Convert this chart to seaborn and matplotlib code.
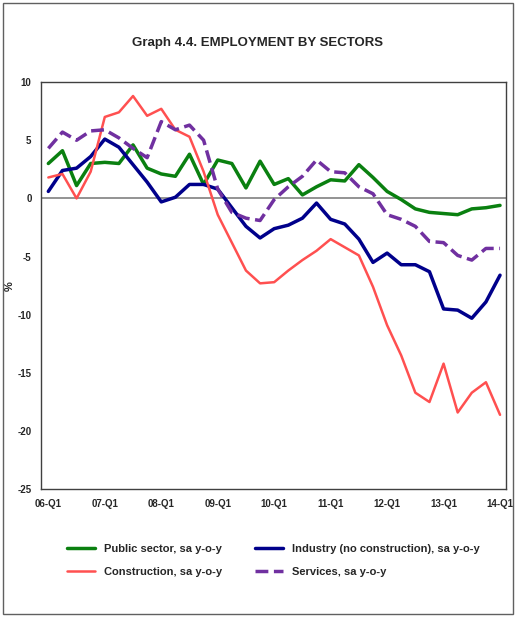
import numpy as np
import pandas as pd
import matplotlib
matplotlib.use("Agg")
import matplotlib.pyplot as plt
import seaborn as sns

quarters = [f"{y:02d}-Q{q}" for y in range(6, 15) for q in range(1, 5)][:33]

public = [3.0, 4.1, 1.1, 3.0, 3.1, 3.0, 4.6, 2.6, 2.1, 1.9, 3.8, 1.2, 3.3, 3.0, 0.9, 3.2, 1.2,
          1.7, 0.3, 1.0, 1.6, 1.5, 2.9, 1.8, 0.6, -0.1, -0.9, -1.2, -1.3, -1.4, -0.9, -0.8, -0.6]
industry = [0.6, 2.4, 2.6, 3.6, 5.1, 4.4, 2.9, 1.4, -0.3, 0.1, 1.2, 1.2, 0.8, -0.8, -2.4, -3.4, -2.6,
            -2.3, -1.7, -0.4, -1.8, -2.2, -3.5, -5.5, -4.7, -5.7, -5.7, -6.3, -9.5, -9.6, -10.3, -8.9, -6.6]
construction = [1.8, 2.1, 0.0, 2.3, 7.0, 7.4, 8.8, 7.1, 7.7, 5.9, 5.3, 2.3, -1.4, -3.8, -6.2, -7.3, -7.2,
                -6.2, -5.3, -4.5, -3.5, -4.2, -4.9, -7.6, -10.9, -13.5, -16.7, -17.5, -14.2, -18.4, -16.7, -15.8, -18.6]
services = [4.3, 5.7, 5.0, 5.8, 5.9, 5.2, 4.3, 3.5, 6.6, 5.9, 6.3, 5.0, 0.8, -1.2, -1.7, -1.9, -0.1,
            1.0, 1.9, 3.3, 2.3, 2.2, 1.0, 0.4, -1.4, -1.8, -2.4, -3.7, -3.8, -4.9, -5.3, -4.3, -4.3]

labels = ["Public sector, sa y-o-y", "Industry (no construction), sa y-o-y",
          "Construction, sa y-o-y", "Services, sa y-o-y"]
colors = ["#0a8010", "#00008b", "#ff5050", "#7030a0"]
styles = ["-", "-", "-", "--"]
widths = [2.5, 2.5, 1.8, 2.5]

df = pd.DataFrame({"x": np.arange(len(quarters)), labels[0]: public, labels[1]: industry,
                   labels[2]: construction, labels[3]: services})

sns.set_style("white")
plt.rcParams["font.family"] = ["Liberation Sans", "DejaVu Sans"]
plt.rcParams["axes.unicode_minus"] = False

fig = plt.figure(figsize=(5.16, 6.17), dpi=100)
ax = fig.add_axes([0.08, 0.207, 0.9, 0.66])
for lab, c, ls, lw in zip(labels, colors, styles, widths):
    sns.lineplot(data=df, x="x", y=lab, ax=ax, color=c, linestyle=ls, linewidth=lw, label=lab)

ax.axhline(0, color="#808080", lw=1.2, zorder=0)
ax.set_ylim(-25, 10)
ax.set_yticks(range(-25, 11, 5))
ax.set_xlim(-0.5, 32.4)
ax.set_xticks(range(0, 33, 4))
ax.set_xticklabels(quarters[::4])
ax.tick_params(labelsize=7)
for t in ax.get_xticklabels() + ax.get_yticklabels():
    t.set_fontweight("bold")
ax.set_xlabel("")
ax.set_ylabel("%", fontsize=8, fontweight="bold", labelpad=2)
for s in ax.spines.values():
    s.set_color("#404040")
    s.set_linewidth(1)

ax.get_legend().remove()
h, l = ax.get_legend_handles_labels()
order = [0, 2, 1, 3]
fig.legend([h[i] for i in order], [l[i] for i in order], loc="upper center",
           bbox_to_anchor=(0.53, 0.135), ncol=2, frameon=False,
           handlelength=2.5, columnspacing=3, labelspacing=1.2,
           prop={"weight": "bold", "size": 8})

fig.suptitle("Graph 4.4. EMPLOYMENT BY SECTORS", y=0.94, fontsize=9.5, fontweight="bold")
fig.patches.append(plt.Rectangle((0.005, 0.005), 0.99, 0.99, transform=fig.transFigure,
                                 fill=False, edgecolor="#606060", lw=1))
fig.savefig("out.png", dpi=100)
